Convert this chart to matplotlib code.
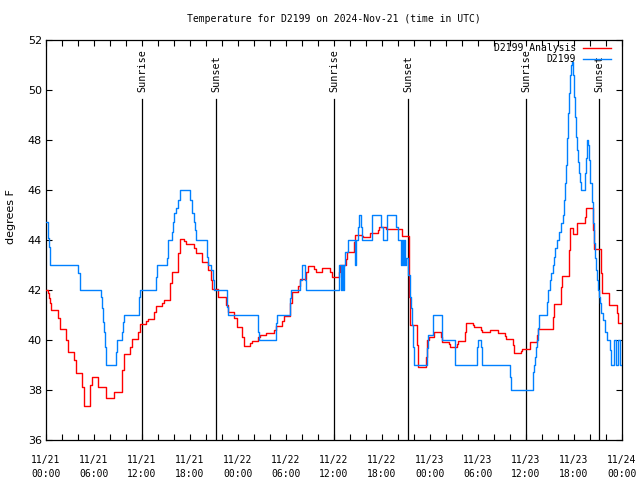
import matplotlib
matplotlib.use("Agg")
import matplotlib.pyplot as plt
from matplotlib.ticker import MultipleLocator

# hours since 2024-11-21 00:00 UTC, step values (deg F)
obs_hours = [0.0, 0.25, 0.38, 0.5, 4.05, 4.2, 4.3, 6.83, 7.04, 7.17, 7.29, 7.42, 7.54,
             8.79, 8.92, 9.46, 9.58, 9.71, 11.58, 11.71, 13.75, 13.92, 15.08, 15.2,
             15.79, 15.92, 16.04, 16.29, 16.54, 16.79, 17.96, 18.2, 18.46, 18.58, 18.71,
             20.08, 20.21, 20.58, 20.83, 20.96, 22.58, 22.71, 26.54, 26.67, 28.79, 28.92,
             30.54, 30.67, 31.79, 32.04, 32.42, 32.54, 36.67, 36.82, 37.0, 37.15, 37.3,
             37.4, 37.8, 38.6, 38.8, 39.0, 39.1, 39.4, 39.5, 40.8, 41.9, 42.1,
             42.6, 43.8, 44.0, 44.38, 44.5, 44.63, 44.72, 44.85, 44.95, 45.3, 45.45, 45.6,
             45.75, 45.85, 46.0, 47.67, 47.8, 48.4, 49.5, 51.1, 53.92, 54.04, 54.4, 54.54,
             57.96, 58.08, 60.83, 60.96, 61.08, 61.21, 61.33, 61.46, 61.58, 62.6, 62.75,
             62.96, 63.08, 63.33, 63.46, 63.58, 63.83, 64.08, 64.33, 64.58, 64.71, 64.83,
             64.96, 65.08, 65.21, 65.33, 65.46, 65.58, 65.71, 65.83, 65.96, 66.08, 66.21,
             66.33, 66.46, 66.58, 66.71, 66.83, 67.33, 67.46, 67.58, 67.71, 67.83, 67.96,
             68.21, 68.33, 68.46, 68.58, 68.71, 68.83, 68.96, 69.08, 69.21, 69.33, 69.58,
             69.83, 70.08, 70.46, 70.58, 71.0, 71.3, 71.45, 71.7, 71.9]
obs_temps = [44.73, 44.07, 43.73, 43.0, 42.67, 42.27, 42.0, 41.7, 41.3, 40.7, 40.3, 39.7, 39.0,
             39.5, 40.0, 40.3, 40.7, 41.0, 41.7, 42.0, 42.5, 43.0, 43.3, 44.0,
             44.33, 44.73, 45.07, 45.27, 45.6, 46.0, 45.6, 45.07, 44.73, 44.4, 44.0,
             43.33, 43.0, 42.8, 42.4, 42.0, 41.33, 41.0, 40.3, 40.0, 40.67, 41.0,
             41.67, 42.0, 42.4, 43.0, 42.4, 42.0, 43.0, 42.0, 43.0, 42.0, 43.0,
             43.5, 44.0, 43.0, 44.0, 44.5, 45.0, 44.5, 44.0, 45.0, 44.5, 44.0,
             45.0, 44.5, 44.0, 43.0, 44.0, 43.0, 44.0, 43.0, 43.3, 42.6, 41.7, 41.3,
             40.6, 39.7, 39.0, 39.67, 40.2, 41.0, 40.0, 39.0, 39.7, 40.0, 39.7, 39.0,
             38.5, 38.0, 38.73, 39.0, 39.33, 39.73, 40.0, 40.47, 41.0, 41.5, 42.0,
             42.4, 42.67, 43.0, 43.33, 43.67, 44.0, 44.33, 44.67, 45.0, 45.6, 46.27,
             47.0, 48.07, 49.07, 49.87, 50.6, 51.0, 51.1, 50.6, 49.7, 48.9, 48.13,
             47.6, 47.13, 46.67, 46.33, 46.0, 46.67, 47.3, 48.0, 47.8, 47.2, 46.27,
             45.53, 44.67, 43.87, 43.27, 42.8, 42.4, 42.0, 41.73, 41.47, 41.07, 40.8,
             40.33, 40.0, 39.6, 39.0, 40.0, 39.0, 40.0, 39.0, 39.0]

ana_hours = [0.0, 0.25, 0.4, 0.5, 0.67, 1.54, 1.7, 2.54, 2.7, 3.54, 3.7, 4.54, 4.7,
             5.54, 5.7, 6.54, 7.54, 8.54, 9.54, 9.7, 10.54, 10.7, 11.54, 11.7,
             12.54, 12.7, 13.54, 13.7, 14.54, 14.7, 15.54, 15.7, 16.54, 16.7, 17.3,
             17.55, 18.54, 18.7, 19.54, 20.3, 20.67, 20.79, 21.54, 22.54, 22.7, 23.54,
             23.9, 24.54, 24.7, 25.54, 25.7, 26.54, 26.7, 27.54, 28.54, 28.7, 29.54,
             29.7, 30.54, 30.7, 31.54, 31.7, 32.54, 32.7, 33.54, 33.7, 34.54, 35.54,
             35.7, 36.58, 36.71, 37.54, 37.67, 38.54, 38.67, 39.54, 39.67, 40.54,
             41.54, 41.67, 42.54, 44.54, 45.42, 45.54, 46.42, 46.54, 47.54, 47.67,
             47.9, 48.5, 49.42, 49.54, 50.42, 50.54, 51.42, 51.54, 52.42, 52.54,
             53.42, 53.54, 54.42, 54.54, 55.54, 56.54, 57.42, 57.54, 58.42, 58.54,
             59.42, 59.54, 60.54, 61.42, 61.54, 63.42, 63.54, 64.42, 64.54, 65.42,
             65.54, 65.92, 66.42, 67.42, 67.54, 68.42, 68.54, 69.42, 69.54, 70.42,
             71.42, 71.54, 71.9]
ana_temps = [42.0, 41.87, 41.67, 41.47, 41.2, 40.87, 40.44, 40.0, 39.52, 39.2, 38.67, 38.13, 37.36,
             38.2, 38.51, 38.11, 37.67, 37.91, 38.8, 39.44, 39.73, 40.03, 40.33, 40.64,
             40.75, 40.84, 41.13, 41.36, 41.47, 41.6, 42.27, 42.71, 43.47, 44.03, 43.95,
             43.84, 43.67, 43.49, 43.13, 42.8, 42.4, 42.04, 41.71, 41.4, 41.1, 40.87,
             40.53, 40.13, 39.76, 39.86, 39.96, 40.1, 40.2, 40.27, 40.4, 40.56, 40.75,
             40.97, 41.47, 41.91, 42.15, 42.44, 42.7, 42.97, 42.85, 42.71, 42.87, 42.7,
             42.52, 42.73, 43.0, 43.25, 43.51, 43.9, 44.2, 44.15, 44.1, 44.27,
             44.4, 44.51, 44.43, 44.17, 41.73, 40.6, 39.8, 38.93, 39.33, 40.0,
             40.13, 40.31, 40.1, 39.93, 39.85, 39.73, 39.85, 39.96, 40.3, 40.67,
             40.6, 40.51, 40.4, 40.31, 40.4, 40.29, 40.15, 40.04, 39.8, 39.49,
             39.55, 39.64, 39.91, 40.2, 40.43, 40.93, 41.43, 42.1, 42.56, 43.6,
             44.47, 44.24, 44.67, 44.93, 45.27, 44.4, 43.64, 42.67, 41.89, 41.4,
             41.07, 40.67, 40.67]

sun_hours = [12.03, 21.28, 36.04, 45.29, 60.04, 69.17]
sun_labels = ["Sunrise", "Sunset", "Sunrise", "Sunset", "Sunrise", "Sunset"]

tick_hours = [0, 6, 12, 18, 24, 30, 36, 42, 48, 54, 60, 66, 72]
tick_labels = ["11/21\n00:00", "11/21\n06:00", "11/21\n12:00", "11/21\n18:00",
               "11/22\n00:00", "11/22\n06:00", "11/22\n12:00", "11/22\n18:00",
               "11/23\n00:00", "11/23\n06:00", "11/23\n12:00", "11/23\n18:00",
               "11/24\n00:00"]

mono = "DejaVu Sans Mono"

fig = plt.figure(figsize=(6.4, 4.8), dpi=100)
ax = fig.add_axes([46 / 640, 40 / 480, 576 / 640, 400 / 480])

# sunrise / sunset markers
for h, lab in zip(sun_hours, sun_labels):
    ax.plot([h, h], [36, 49.63], color="black", lw=0.9, zorder=1)
    ax.text(h, 49.9, lab, rotation=90, ha="center", va="bottom",
            fontsize=7.3, family=mono, zorder=1)

ax.plot(ana_hours, ana_temps, drawstyle="steps-post", color="#ff0000", lw=1.0,
        label="D2199 Analysis", zorder=3)
ax.plot(obs_hours, obs_temps, drawstyle="steps-post", color="#0080ff", lw=1.0,
        label="D2199", zorder=4)

ax.set_xlim(0, 72)
ax.set_ylim(36, 52)
ax.set_xticks(tick_hours)
ax.set_xticklabels(tick_labels, family=mono, fontsize=7, linespacing=1.5)
ax.xaxis.set_minor_locator(MultipleLocator(2))
ax.yaxis.set_major_locator(MultipleLocator(2))
for lab in ax.get_yticklabels():
    lab.set_fontsize(8)
ax.tick_params(axis="both", which="both", direction="in", top=True, right=True,
               length=4, width=0.8)
ax.tick_params(axis="x", which="major", pad=11)
ax.tick_params(axis="y", which="major", pad=3)
for s in ax.spines.values():
    s.set_linewidth(0.9)

fig.text(11 / 640, 1 - 217 / 480, "degrees F", rotation=90, ha="center",
         va="center", fontsize=8)
fig.text(334 / 640, 1 - 19 / 480, "Temperature for D2199 on 2024-Nov-21 (time in UTC)",
         ha="center", va="center", fontsize=7, family=mono)

leg = ax.legend(loc="upper right", bbox_to_anchor=(611 / 640, 1 - 43 / 480),
                bbox_transform=fig.transFigure, frameon=False, markerfirst=False,
                borderpad=0, borderaxespad=0, handlelength=2.9, handletextpad=0.7,
                labelspacing=0.15, prop={"family": mono, "size": 7})
leg.set_zorder(5)

fig.savefig("out.png", dpi=100)
